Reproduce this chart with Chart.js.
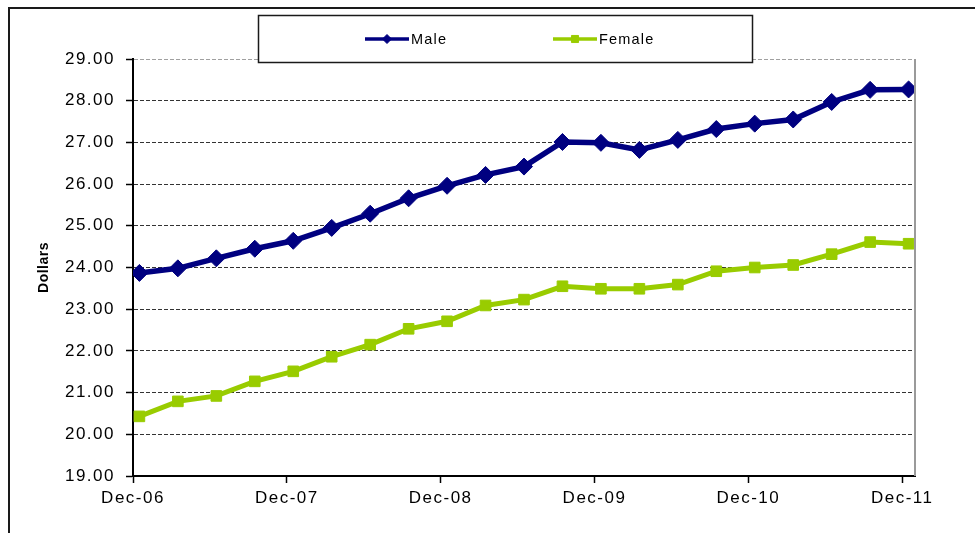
<!DOCTYPE html>
<html><head><meta charset="utf-8">
<script src="https://cdn.jsdelivr.net/npm/chart.js@4.4.1/dist/chart.umd.min.js"></script>
<style>
html,body{margin:0;padding:0;background:#fff;}
#wrap{position:relative;width:975px;height:533px;overflow:hidden;background:#fff;}
#frame{position:absolute;left:8px;top:7px;width:1000px;height:600px;border-left:2px solid #1a1a1a;border-top:2px solid #1a1a1a;}
canvas{position:absolute;left:0;top:0;}
</style></head><body>
<div id="wrap"><div id="frame"></div><canvas id="c" width="975" height="533"></canvas></div>
<script>
// ---- data ----
const categories = ['Dec-06','Mar-07','Jun-07','Sep-07','Dec-07','Mar-08','Jun-08','Sep-08','Dec-08','Mar-09','Jun-09','Sep-09','Dec-09','Mar-10','Jun-10','Sep-10','Dec-10','Mar-11','Jun-11','Sep-11','Dec-11'];
const maleValues = [23.87,23.98,24.22,24.45,24.64,24.95,25.29,25.66,25.96,26.22,26.42,27.01,26.99,26.82,27.06,27.32,27.45,27.55,27.97,28.26,28.27];
const femaleValues = [20.43,20.79,20.92,21.27,21.51,21.86,22.15,22.53,22.71,23.09,23.23,23.55,23.49,23.49,23.59,23.91,24.00,24.06,24.32,24.61,24.57];
const xTickLabels = ['Dec-06','Dec-07','Dec-08','Dec-09','Dec-10','Dec-11'];
const seriesNames = ['Male','Female'];
const yAxisTitle = 'Dollars';

// ---- helpers ----
const MONTHS = {Jan:0,Feb:1,Mar:2,Apr:3,May:4,Jun:5,Jul:6,Aug:7,Sep:8,Oct:9,Nov:10,Dec:11};
function monthsSinceStart(label){
  const [m, y] = label.split('-');
  return (2000 + parseInt(y,10) - 2006) * 12 + (MONTHS[m] - 11) + 0.5; // mid-month
}
function toPoints(vals){ return vals.map((v,i)=>({x: monthsSinceStart(categories[i]), y: v})); }

const FONT = "'Liberation Sans', Arial, sans-serif";

const spacingPlugin = {
  id: 'spacing',
  beforeDraw(chart){ chart.ctx.letterSpacing = '0.5px'; },
  afterDatasetsDraw(chart){ chart.ctx.letterSpacing = '1.5px'; }
};

const framePlugin = {
  id: 'boxLegend',
  afterDraw(chart){
    const ctx = chart.ctx, a = chart.chartArea;
    ctx.save();
    ctx.letterSpacing = '0px';
    // right plot border
    ctx.strokeStyle = '#9a9a9a'; ctx.lineWidth = 2;
    ctx.beginPath(); ctx.moveTo(a.right, a.top); ctx.lineTo(a.right, a.bottom); ctx.stroke();
    // legend box
    ctx.fillStyle = '#fff'; ctx.fillRect(258, 15, 495, 47);
    ctx.strokeStyle = '#1a1a1a'; ctx.lineWidth = 1.5; ctx.strokeRect(258.5, 15.5, 494, 47);
    const starts = [365, 553];
    const y = 39;
    chart.data.datasets.forEach((ds, i) => {
      const x0 = starts[i];
      ctx.strokeStyle = ds.borderColor; ctx.lineWidth = 3.5;
      ctx.beginPath(); ctx.moveTo(x0, y); ctx.lineTo(x0 + 44, y); ctx.stroke();
      ctx.fillStyle = ds.borderColor; ctx.strokeStyle = ds.borderColor; ctx.lineWidth = 1;
      Chart.helpers.drawPoint(ctx, {pointStyle: ds.pointStyle, radius: i === 0 ? 4.5 : 5, rotation: 0, borderWidth: 1}, x0 + 22, y);
      ctx.letterSpacing = '1.2px';
      ctx.fillStyle = '#000'; ctx.font = '14.5px ' + FONT;
      ctx.textAlign = 'left'; ctx.textBaseline = 'middle';
      ctx.fillText(ds.label, x0 + 46, y + 1);
      ctx.letterSpacing = '0px';
    });
    ctx.restore();
  }
};

new Chart(document.getElementById('c'), {
  type: 'line',
  data: {
    datasets: [
      { label: seriesNames[0], data: toPoints(maleValues), borderColor: '#000080', backgroundColor: '#000080',
        borderWidth: 5.5, pointStyle: 'rectRot', pointRadius: 8.5, pointBorderWidth: 1, tension: 0 },
      { label: seriesNames[1], data: toPoints(femaleValues), borderColor: '#99cc00', backgroundColor: '#99cc00',
        borderWidth: 5, pointStyle: 'rect', pointRadius: 7.5, pointBorderWidth: 1, tension: 0 }
    ]
  },
  options: {
    responsive: false, animation: false, devicePixelRatio: 1,
    layout: { padding: { top: 59, left: 30, right: 60, bottom: 0 } },
    plugins: { legend: { display: false }, tooltip: { enabled: false } },
    scales: {
      x: {
        type: 'linear', min: 0, max: 61,
        afterFit(s){ s.height = 57; },
        border: { color: '#000', width: 2 },
        grid: { drawOnChartArea: false, drawTicks: true, tickLength: 7, tickColor: '#000', tickWidth: 1.5 },
        ticks: { z: 1, stepSize: 12, includeBounds: false, autoSkip: false, maxRotation: 0, padding: 5, color: '#000',
          font: { family: FONT, size: 17 },
          callback: (v) => xTickLabels[Math.round(v / 12)] }
      },
      y: {
        min: 19, max: 29,
        afterFit(s){ s.width = 103; },
        border: { color: '#000', width: 2, dash: [4, 2] },
        grid: { color: (c) => (c.tick && c.tick.value === 29) ? '#a0a0a0' : '#333', lineWidth: 1,
          drawTicks: true, tickLength: 7, tickColor: '#000', tickWidth: 1.5, tickBorderDash: [] },
        ticks: { z: 1, stepSize: 1, padding: 11, color: '#000', font: { family: FONT, size: 17 },
          callback: (v) => v.toFixed(2) },
        title: { display: true, text: yAxisTitle, color: '#000', padding: { top: 6, bottom: 0 },
          font: { family: FONT, size: 14, weight: 'bold' } }
      }
    }
  },
  plugins: [spacingPlugin, framePlugin]
});
</script>
</body></html>
